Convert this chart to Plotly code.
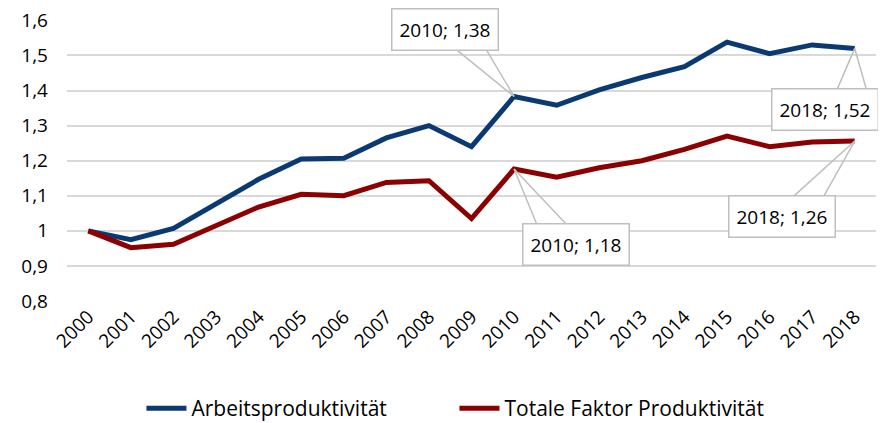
import plotly.graph_objects as go

# Produktivitaet, Index 2000 = 1
years = [str(y) for y in range(2000, 2019)]
arbeit = [1.00, 0.975, 1.007, 1.075, 1.147, 1.205, 1.207, 1.265, 1.300, 1.240,
          1.383, 1.358, 1.402, 1.437, 1.468, 1.538, 1.505, 1.530, 1.520]
tfp = [1.00, 0.952, 0.962, 1.015, 1.068, 1.104, 1.100, 1.138, 1.143, 1.035,
       1.176, 1.153, 1.180, 1.200, 1.232, 1.270, 1.240, 1.253, 1.256]

blue = "#0b3a73"
red = "#8b0000"
grid = "#d9d9d9"
callout_grey = "#bfbfbf"
font = "Open Sans"

fig = go.Figure()
fig.add_trace(go.Scatter(x=years, y=arbeit, mode="lines", name="Arbeitsproduktivität",
                         line=dict(color=blue, width=5)))
fig.add_trace(go.Scatter(x=years, y=tfp, mode="lines", name="Totale Faktor Produktivität",
                         line=dict(color=red, width=5)))

# callout labels: (series, year, box offset, wedge base offsets) in screen px
callouts = [
    (arbeit, "2010", (-69, -67), [(-58, -47), (-28, -47)]),
    (tfp, "2010", (62, 75), [(23, 56), (53, 56)]),
    (arbeit, "2018", (-30, 61), [(-18, 42), (12, 42)]),
    (tfp, "2018", (-73, 75), [(-63, 57), (-32, 57)]),
]
for series, yr, (bx, by), base in callouts:
    i = years.index(yr)
    # wedge lines from the box edge to the point
    for ax, ay in base:
        fig.add_annotation(x=i, y=series[i], xref="x", yref="y", text="",
                           showarrow=True, ax=ax, ay=ay, arrowhead=0, arrowwidth=1.5,
                           arrowcolor=callout_grey)
for series, yr, (bx, by), base in callouts:
    i = years.index(yr)
    txt = f"{yr}; {series[i]:.2f}".replace(".", ",")
    fig.add_annotation(x=i, y=series[i], xref="x", yref="y", text=txt,
                       showarrow=True, ax=bx, ay=by, arrowwidth=1,
                       arrowcolor="rgba(0,0,0,0)",
                       bgcolor="white", bordercolor=callout_grey, borderwidth=1.5,
                       borderpad=7, font=dict(family=font, size=19, color="black"))

fig.update_layout(
    width=878, height=415,
    margin=dict(l=59, r=10, t=12, b=122, autoexpand=False),
    plot_bgcolor="white", paper_bgcolor="white",
    separators=",.",
    font=dict(family=font, size=19, color="black"),
    showlegend=True,
    legend=dict(orientation="h", x=0.152, xanchor="left", xref="container",
                y=0.035, yanchor="middle", yref="container",
                font=dict(size=21), itemwidth=40, entrywidth=258),
)
fig.update_xaxes(type="category", tickangle=-45, showgrid=False, showline=False,
                 ticks="", range=[-0.5, 18.5], automargin=False)
fig.update_yaxes(range=[0.8, 1.601], tickvals=[0.8, 0.9, 1.0, 1.1, 1.2, 1.3, 1.4, 1.5, 1.6],
                 ticklabeloverflow="allow", showgrid=True, gridcolor=grid,
                 gridwidth=1.5, zeroline=False, ticklabelstandoff=18, automargin=False)

fig.write_html("out.html")
